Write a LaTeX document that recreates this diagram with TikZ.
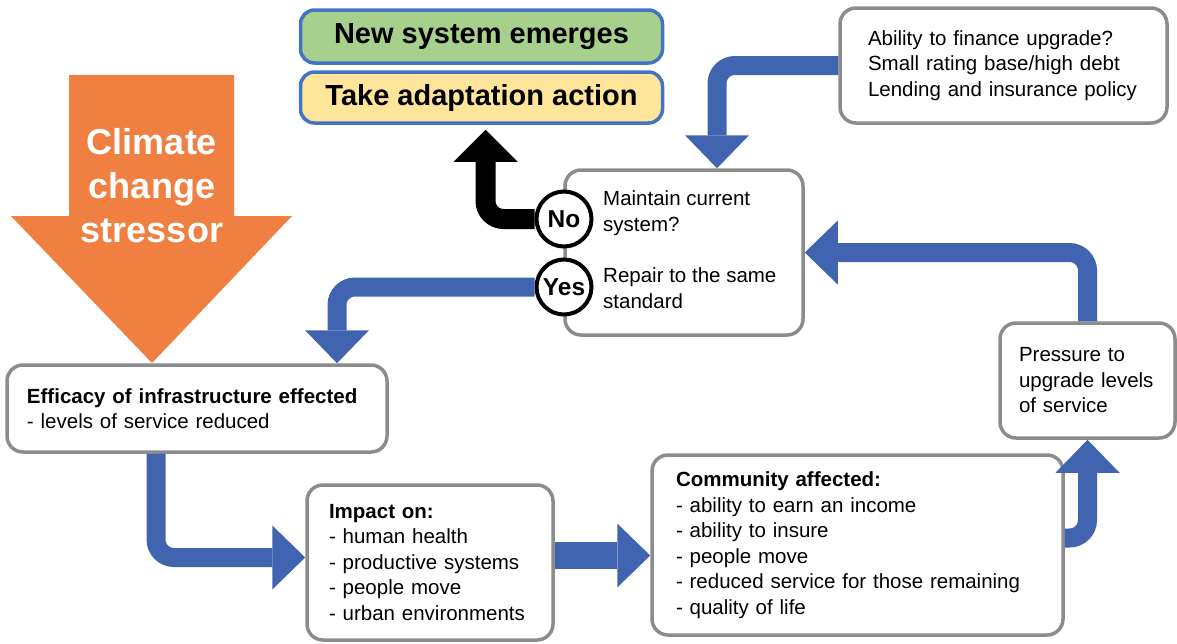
\documentclass[tikz,border=0pt]{standalone}
\usepackage{fontspec}
\setmainfont{Liberation Sans}
\usetikzlibrary{arrows.meta}
\definecolor{bl}{RGB}{65,100,177}
\definecolor{bx}{RGB}{140,140,140}
\definecolor{orng}{RGB}{240,128,66}
\definecolor{grn}{RGB}{168,208,141}
\definecolor{ylw}{RGB}{254,229,153}
\definecolor{frm}{RGB}{68,114,196}
\newcommand{\fsn}{\fontsize{20.5}{25.5}\selectfont}
\tikzset{
  box/.style={draw=bx, line width=3.5pt, rounded corners=16pt, fill=white,
    align=left, inner ysep=0pt, font=\fsn},
  topbox/.style={draw=frm, line width=3.5pt, rounded corners=14pt,
    minimum width=362pt, inner sep=0pt, font=\fontsize{29}{34}\selectfont\bfseries},
  decision/.style={circle, draw=black, line width=4pt, fill=white,
    minimum size=55pt, inner sep=0pt, font=\fontsize{24.5}{28}\selectfont\bfseries},
  bluearrow/.style={draw=bl, line width=19pt, rounded corners=18pt,
    -{Triangle[length=33pt,width=64pt,line width=0pt]}},
  blackarrow/.style={draw=black, line width=20pt, rounded corners=18pt,
    -{Triangle[length=32pt,width=64pt,line width=0pt]}},
  qtext/.style={anchor=west, align=left, inner sep=0pt, font=\fsn}
}
\begin{document}
\begin{tikzpicture}[x=1pt,y=-1pt]
\useasboundingbox (0,0) rectangle (1177,643);

% top result boxes
\node[topbox, fill=grn, minimum height=53pt] (new) at (481.5,36.5) {New system emerges};
\node[topbox, fill=ylw, minimum height=51pt] (take) at (481.5,97.5) {Take adaptation action};

% finance box
\node[box, minimum width=327pt, minimum height=115pt, inner xsep=28pt, text width=271pt]
  (finance) at (1003.5,65.5)
  {Ability to finance upgrade?\\Small rating base/high debt\\Lending and insurance policy};

% decision box
\node[box, minimum width=238pt, minimum height=165pt] (dbox) at (684,252.5) {};
\node[qtext] (q1) at (603,213) {Maintain current\\system?};
\node[qtext] (q2) at (603,288) {Repair to the same\\standard};

% efficacy box
\node[box, minimum width=380pt, minimum height=87pt, inner xsep=20pt, text width=340pt]
  (efficacy) at (197,408.5)
  {\textbf{Efficacy of infrastructure effected}\\- levels of service reduced};

% impact box
\node[box, minimum width=246pt, minimum height=155pt, inner xsep=22pt, text width=202pt]
  (impact) at (430,562.5)
  {\textbf{Impact on:}\\- human health\\- productive systems\\- people move\\- urban environments};

% community box
\node[box, minimum width=411pt, minimum height=180pt, inner xsep=24pt, text width=363pt]
  (community) at (857.5,545)
  {\textbf{Community affected:}\\- ability to earn an income\\- ability to insure\\- people move\\- reduced service for those remaining\\- quality of life};

% pressure box
\node[box, minimum width=175pt, minimum height=115pt, inner xsep=19pt, text width=137pt]
  (pressure) at (1087.5,380.5)
  {Pressure to\\upgrade levels\\of service};

% climate change stressor arrow
\fill[orng] (69,75) -- (234,75) -- (234,216) -- (292,216) -- (152,363)
  -- (11,216) -- (69,216) -- cycle;
\node[text=white, align=center, inner sep=0pt,
  font=\fontsize{36}{44}\selectfont\bfseries] (stressor) at (152,186)
  {Climate\\change\\stressor};

% decision circles
\node[decision] (no) at (564,219) {No};
\node[decision] (yes) at (564,287) {Yes};

% connectors
\draw[blackarrow, shorten >=5pt] (no.west) -| ([xshift=4pt]take.south);
\draw[bluearrow] (yes.west) -| ([xshift=140pt]efficacy.north);
\draw[bluearrow] (finance.west) -| ([xshift=33pt]dbox.north);
\draw[bluearrow] (pressure.north) |- (dbox.east);
\draw[bluearrow] ([xshift=-41pt]efficacy.south) |- ([yshift=5pt]impact.west);
\draw[bluearrow, line width=27pt] ([yshift=7pt]impact.east) -- ([yshift=7pt]impact.east -| community.west);
\draw[bluearrow] ([yshift=7pt]community.east) -| (pressure.south);
\end{tikzpicture}
\end{document}
